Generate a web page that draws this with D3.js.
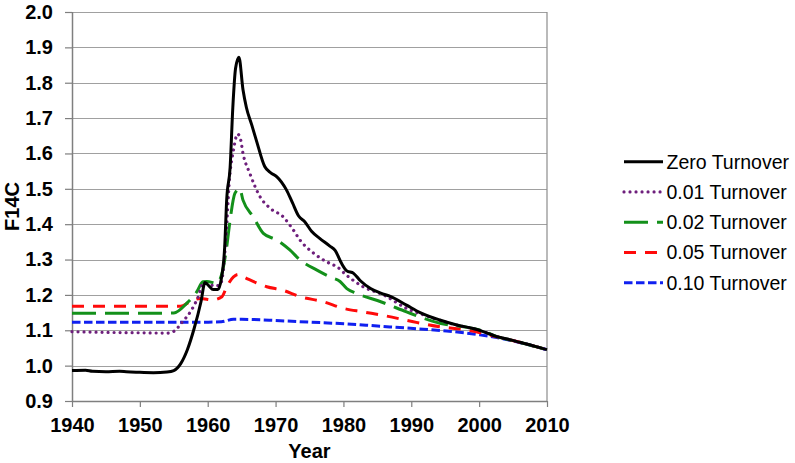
<!DOCTYPE html>
<html>
<head>
<meta charset="utf-8">
<script src="https://cdn.jsdelivr.net/npm/d3@7"></script>
<style>
  html, body { margin: 0; padding: 0; background: #fff; }
  svg { display: block; font-family: "Liberation Sans", Arial, sans-serif; }
</style>
</head>
<body>
<svg id="chart" width="795" height="463"></svg>
<script>
// ---- Data ----
const seriesNames = ["Zero Turnover", "0.01 Turnover", "0.02 Turnover", "0.05 Turnover", "0.10 Turnover"];

const zeroYears = [1940,1942,1943,1945,1947,1948,1950,1952,1954,1955,1956,1957,1958,1959,1959.6,1960.2,1960.8,1961.5,1962,1962.5,1962.8,1963.3,1963.7,1964.1,1964.6,1965.2,1965.7,1966.5,1967.2,1968.4,1969.3,1970.2,1971.6,1972.5,1973.4,1974.3,1975.3,1976.5,1978,1978.8,1979.7,1980.5,1981.5,1982.5,1984,1985.5,1987,1989.3,1991.3,1994.2,1996.7,1999.1,2000.5,2002.6,2004,2006,2008,2010];
const zeroValues = [0.986,0.987,0.984,0.983,0.984,0.983,0.981,0.980,0.982,0.986,1.005,1.045,1.105,1.180,1.235,1.225,1.215,1.215,1.245,1.335,1.470,1.560,1.730,1.840,1.872,1.780,1.730,1.680,1.635,1.563,1.545,1.534,1.497,1.460,1.423,1.407,1.380,1.360,1.338,1.325,1.290,1.268,1.261,1.240,1.218,1.205,1.195,1.171,1.150,1.129,1.115,1.105,1.097,1.082,1.076,1.066,1.056,1.045];

const t01Years = [1940,1945,1950,1954,1955,1956.2,1957.6,1958.6,1959.3,1960,1961,1961.8,1962.3,1962.7,1963.2,1963.8,1964.4,1964.8,1965.2,1966.2,1967.7,1969.2,1971.1,1972.6,1973.6,1975.6,1978,1979,1980.5,1982.9,1985.9,1989.3,1992.8,1996,2000,2003,2006,2010];
const t01Values = [1.096,1.094,1.093,1.092,1.097,1.122,1.157,1.195,1.232,1.232,1.225,1.228,1.270,1.365,1.525,1.610,1.655,1.643,1.600,1.544,1.478,1.445,1.421,1.384,1.355,1.318,1.289,1.280,1.255,1.223,1.200,1.162,1.137,1.118,1.100,1.080,1.066,1.045];

const t02Years = [1940,1945,1950,1955,1956.9,1958.4,1959.3,1959.9,1961.3,1962.1,1962.8,1963.3,1964,1964.7,1965.2,1966.7,1968.2,1970.2,1972.1,1973.6,1976.1,1978,1979.5,1980.5,1982,1985.6,1989.3,1991.8,1994.2,1997.7,2000.1,2003,2006,2010];
const t02Values = [1.148,1.148,1.148,1.149,1.176,1.209,1.237,1.238,1.233,1.261,1.336,1.412,1.487,1.501,1.468,1.421,1.374,1.355,1.327,1.299,1.270,1.251,1.238,1.218,1.204,1.180,1.152,1.134,1.120,1.110,1.101,1.080,1.066,1.045];

const t05Years = [1940,1950,1956,1957.4,1958.9,1960.8,1962.1,1962.8,1963.8,1964.5,1965.7,1968.7,1971.1,1973.6,1977,1980,1982.9,1986.4,1990.3,1994.2,1998.2,2002.1,2006,2010];
const t05Values = [1.168,1.168,1.168,1.181,1.190,1.186,1.195,1.223,1.251,1.258,1.247,1.223,1.213,1.195,1.181,1.162,1.152,1.140,1.124,1.110,1.101,1.084,1.066,1.045];

const t10Years = [1940,1950,1960,1962,1963.8,1965,1970.7,1975,1980.5,1985,1990.3,1995.2,2000.1,2003,2005,2010];
const t10Values = [1.123,1.123,1.123,1.124,1.131,1.131,1.127,1.123,1.118,1.112,1.105,1.098,1.087,1.078,1.070,1.045];

const xTicks = [1940,1950,1960,1970,1980,1990,2000,2010];
const yTicks = [0.9,1.0,1.1,1.2,1.3,1.4,1.5,1.6,1.7,1.8,1.9,2.0];

// ---- Styles ----
const styles = [
  { color: "#000000", width: 3,   dash: null,       cap: "butt"  },
  { color: "#6e1f7c", width: 3.2, dash: "0.01,6",   cap: "round" },
  { color: "#13901a", width: 3,   dash: "24,9",     cap: "butt"  },
  { color: "#ff0a0a", width: 3,   dash: "12,9",     cap: "butt"  },
  { color: "#1020f0", width: 3,   dash: "8.5,3.5",  cap: "butt"  }
];

const series = [
  zeroYears.map((yr,i)=>({x:yr, v:zeroValues[i]})),
  t01Years.map((yr,i)=>({x:yr, v:t01Values[i]})),
  t02Years.map((yr,i)=>({x:yr, v:t02Values[i]})),
  t05Years.map((yr,i)=>({x:yr, v:t05Values[i]})),
  t10Years.map((yr,i)=>({x:yr, v:t10Values[i]}))
];

// ---- Layout ----
const svg = d3.select("#chart");
const pL = 72, pR = 547, pT = 12, pB = 401;
const xS = d3.scaleLinear().domain([1940, 2010]).range([pL, pR]);
const yS = d3.scaleLinear().domain([0.9, 2.0]).range([pB, pT]);

// gridlines
svg.append("g")
  .selectAll("line")
  .data(yTicks.filter(t => t > 0.9))
  .join("line")
  .attr("x1", pL).attr("x2", pR)
  .attr("y1", d => Math.round(yS(d)) + 0.5).attr("y2", d => Math.round(yS(d)) + 0.5)
  .attr("stroke", "#a0a0a0").attr("stroke-width", 1.2);

// right border
svg.append("line")
  .attr("x1", pR).attr("x2", pR).attr("y1", pT).attr("y2", pB)
  .attr("stroke", "#8c8c8c").attr("stroke-width", 1.2);

// axes
const yAxis = svg.append("g")
  .attr("transform", `translate(${pL},0)`)
  .call(d3.axisLeft(yS).tickValues(yTicks).tickFormat(d3.format(".1f")).tickSize(7).tickPadding(12));
const xAxis = svg.append("g")
  .attr("transform", `translate(0,${pB})`)
  .call(d3.axisBottom(xS).tickValues(xTicks).tickFormat(d3.format("d")).tickSize(6).tickPadding(11));

[yAxis, xAxis].forEach(a => {
  a.selectAll(".domain").attr("stroke", "#7f7f7f").attr("stroke-width", 1.5);
  a.selectAll(".tick line").attr("stroke", "#7f7f7f").attr("stroke-width", 1.2);
  a.selectAll(".tick text")
    .attr("fill", "#000")
    .style("font-family", '"Liberation Sans", Arial, sans-serif')
    .style("font-size", "20px")
    .style("font-weight", "bold");
});
xAxis.select(".domain").attr("d", `M${pL},0.5H${pR}`);
yAxis.select(".domain").attr("d", `M0.5,${pT}V${pB}`);

// axis titles
svg.append("text")
  .attr("x", (pL + pR) / 2).attr("y", 458)
  .attr("text-anchor", "middle")
  .style("font-size", "20px").style("font-weight", "bold")
  .text("Year");
svg.append("text")
  .attr("transform", `translate(18.5,${(pT + pB) / 2}) rotate(-90)`)
  .attr("text-anchor", "middle")
  .style("font-size", "20px").style("font-weight", "bold")
  .text("F14C");

// lines
const line = d3.line().x(d => xS(d.x)).y(d => yS(d.v)).curve(d3.curveMonotoneX);
const order = [4, 3, 2, 1, 0];
order.forEach(i => {
  const s = styles[i];
  svg.append("path")
    .datum(series[i])
    .attr("d", line)
    .attr("fill", "none")
    .attr("stroke", s.color)
    .attr("stroke-width", s.width)
    .attr("stroke-linecap", s.cap)
    .attr("stroke-linejoin", "round")
    .attr("stroke-dasharray", s.dash);
});

// legend
const legend = svg.append("g");
seriesNames.forEach((name, i) => {
  const s = styles[i];
  const ly = 161.7 + i * 30.25;
  legend.append("line")
    .attr("x1", 624).attr("x2", 663).attr("y1", ly).attr("y2", ly)
    .attr("stroke", s.color).attr("stroke-width", s.width)
    .attr("stroke-linecap", s.cap)
    .attr("stroke-dasharray", s.dash);
  legend.append("text")
    .attr("x", 666.5).attr("y", ly)
    .attr("dominant-baseline", "central")
    .style("font-size", "19.5px")
    .text(name);
});
</script>
</body>
</html>
